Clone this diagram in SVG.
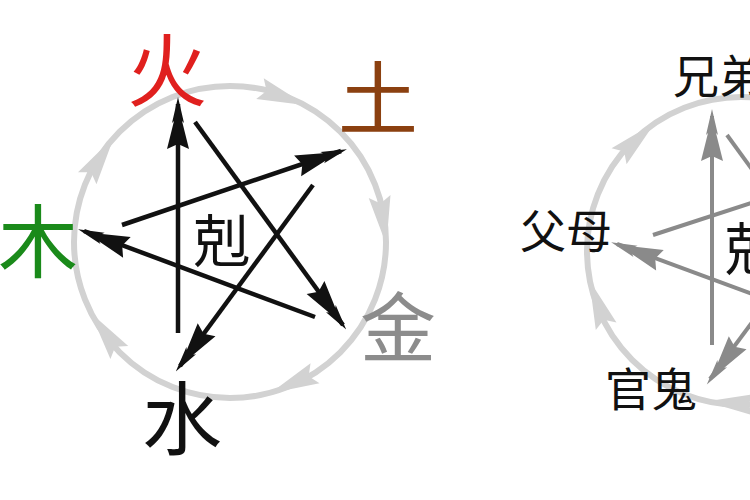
<svg xmlns="http://www.w3.org/2000/svg" xmlns:xlink="http://www.w3.org/1999/xlink" width="750" height="500" viewBox="0 0 750 500">
<style>
.cyc{fill:none;stroke:#d2d2d2;stroke-width:6}
.star{fill:none;stroke:#111;stroke-width:4.5}
.star2{fill:none;stroke:#8a8a8a;stroke-width:4}
.hc{fill:#d2d2d2}
.hb{fill:#111}
.hg{fill:#8a8a8a}
text{font-family:"Noto Sans CJK SC","Noto Sans CJK TC",sans-serif}
.big{font-size:80px;text-anchor:middle}
.mid{font-size:57px;fill:#111}
.sm{font-size:46px;fill:#111}
</style>
<defs>
<path id="head" d="M2,0 L-24,-6 L-22,-4 L-50,-11 L-45,0 L-50,11 L-22,4 L-24,6 Z"/>
<path id="chead" d="M3,0 L-46,-11 L-39,0 L-46,11 Z"/>
</defs>
<rect width="750" height="500" fill="#ffffff"/>
<g id="connectors">
<circle class="cyc" cx="230" cy="242" r="156"/>
<use xlink:href="#chead" href="#chead" class="hc" transform="translate(303.2,104.3) rotate(20)"/>
<use xlink:href="#chead" href="#chead" class="hc" transform="translate(386,242) rotate(82)"/>
<use xlink:href="#chead" href="#chead" class="hc" transform="translate(273,392) rotate(156)"/>
<use xlink:href="#chead" href="#chead" class="hc" transform="translate(92.3,315.2) rotate(234)"/>
<use xlink:href="#chead" href="#chead" class="hc" transform="translate(112.3,139.6) rotate(303)"/>
<path class="star" d="M178,333 L178,104"/>
<path class="star" d="M195,122 L343,325"/>
<path class="star" d="M313,185 L180,366"/>
<path class="star" d="M315,317 L84,231"/>
<path class="star" d="M122,225 L341,151"/>
<use xlink:href="#head" href="#head" class="hb" transform="translate(178,99) rotate(-90)"/>
<use xlink:href="#head" href="#head" class="hb" transform="translate(345,328) rotate(53.9)"/>
<use xlink:href="#head" href="#head" class="hb" transform="translate(177,370) rotate(126.3)"/>
<use xlink:href="#head" href="#head" class="hb" transform="translate(80,230) rotate(200.3)"/>
<use xlink:href="#head" href="#head" class="hb" transform="translate(345,150) rotate(-18.6)"/>
<circle class="cyc" cx="741" cy="251" r="154"/>
<use xlink:href="#chead" href="#chead" class="hc" transform="translate(590.4,283) rotate(250)"/>
<use xlink:href="#chead" href="#chead" class="hc" transform="translate(652.7,124.8) rotate(317)"/>
<use xlink:href="#chead" href="#chead" class="hc" transform="translate(709,401.6) rotate(184)"/>
<path class="star2" d="M712,345 L712,116"/>
<path class="star2" d="M727,135 L877,341"/>
<path class="star2" d="M845,197 L710,379"/>
<path class="star2" d="M847,329 L617,244"/>
<path class="star2" d="M653,235 L877,162"/>
<use xlink:href="#head" href="#head" class="hg" transform="translate(712,111) rotate(-90)"/>
<use xlink:href="#head" href="#head" class="hg" transform="translate(708,383) rotate(126.4)"/>
<use xlink:href="#head" href="#head" class="hg" transform="translate(613,243) rotate(200.2)"/>
</g>
<g id="node-huo"><text class="big" x="167" y="100" fill="#e0201e">火</text></g>
<g id="node-tu"><text class="big" x="378" y="128" fill="#8b4010">土</text></g>
<g id="node-mu"><text class="big" x="38" y="271" fill="#1a8a1a">木</text></g>
<g id="node-jin"><text class="big" x="398" y="356" fill="#8c8c8c" style="font-size:76px">金</text></g>
<g id="node-shui"><text class="big" x="182" y="448" fill="#111">水</text></g>
<g id="node-ke"><text class="mid" x="222" y="262" text-anchor="middle">剋</text></g>
<g id="node-xiongdi"><text class="sm" x="673" y="93">兄弟</text></g>
<g id="node-fumu"><text class="sm" x="520" y="248">父母</text></g>
<g id="node-guangui"><text class="sm" x="605" y="406">官鬼</text></g>
<g id="node-ke2"><text class="mid" x="725" y="270">剋</text></g>
</svg>
